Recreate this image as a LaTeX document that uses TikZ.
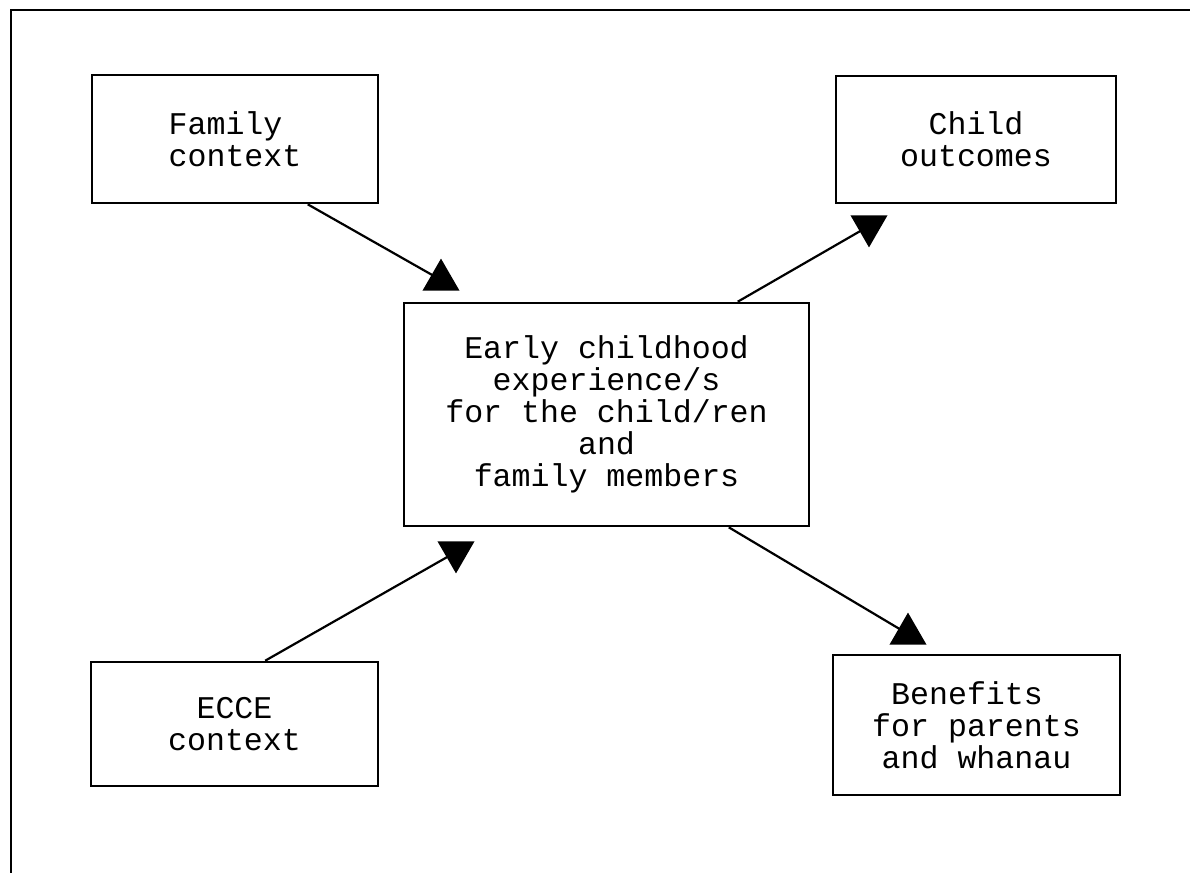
\documentclass[tikz,border=0pt]{standalone}
\usepackage{fontspec}
\newfontfamily\cour{Liberation Mono}
\usetikzlibrary{shapes.geometric,calc}
\tikzset{
  box/.style={draw, line width=1.3pt, inner sep=0pt, align=center,
    font=\cour\fontsize{15.8}{16}\selectfont},
  tri/.style={regular polygon, regular polygon sides=3, fill=black, draw=none,
    inner sep=0pt, minimum size=21.4pt},
  conn/.style={line width=1.1pt},
  frame/.style={line width=1.2pt}
}
\begin{document}
\begin{tikzpicture}[x=0.5pt,y=-0.5pt]
\useasboundingbox (0,0) rectangle (1190,873);
\coordinate (fr1) at (1190,10);
\coordinate (fr2) at (11,10);
\coordinate (fr3) at (11,873);
\draw[frame] (fr1) -- (fr2) -- (fr3);

\node[box, minimum width=143pt, minimum height=64pt] (fam) at (235,139)
  {Family\hphantom{x}\\context};
\node[box, minimum width=140pt, minimum height=63.5pt] (child) at (976,139.5)
  {Child\\outcomes};
\node[box, minimum width=202.5pt, minimum height=111.5pt] (ece) at (606.5,414.5)
  {Early childhood\\experience/s\\for the child/ren\\and\\family members};
\node[box, minimum width=143.5pt, minimum height=62pt] (ecce) at (234.5,724)
  {ECCE\\context};
\node[box, minimum width=143.5pt, minimum height=70pt] (ben) at (976.5,725)
  {Benefits\hphantom{x}\\for parents\\and whanau};

\node[tri] (t1) at (441,280) {};
\node[tri, shape border rotate=180] (t2) at (869,226) {};
\node[tri, shape border rotate=180] (t3) at (456,552) {};
\node[tri] (t4) at (908,634) {};

\draw[conn] ($(fam.south west)!0.752!(fam.south east)$) -- (t1.center);
\draw[conn] ($(ece.north west)!0.822!(ece.north east)$) -- (t2.center);
\draw[conn] ($(ecce.north west)!0.606!(ecce.north east)$) -- (t3.center);
\draw[conn] ($(ece.south west)!0.80!(ece.south east)$) -- (t4.center);
\end{tikzpicture}
\end{document}
